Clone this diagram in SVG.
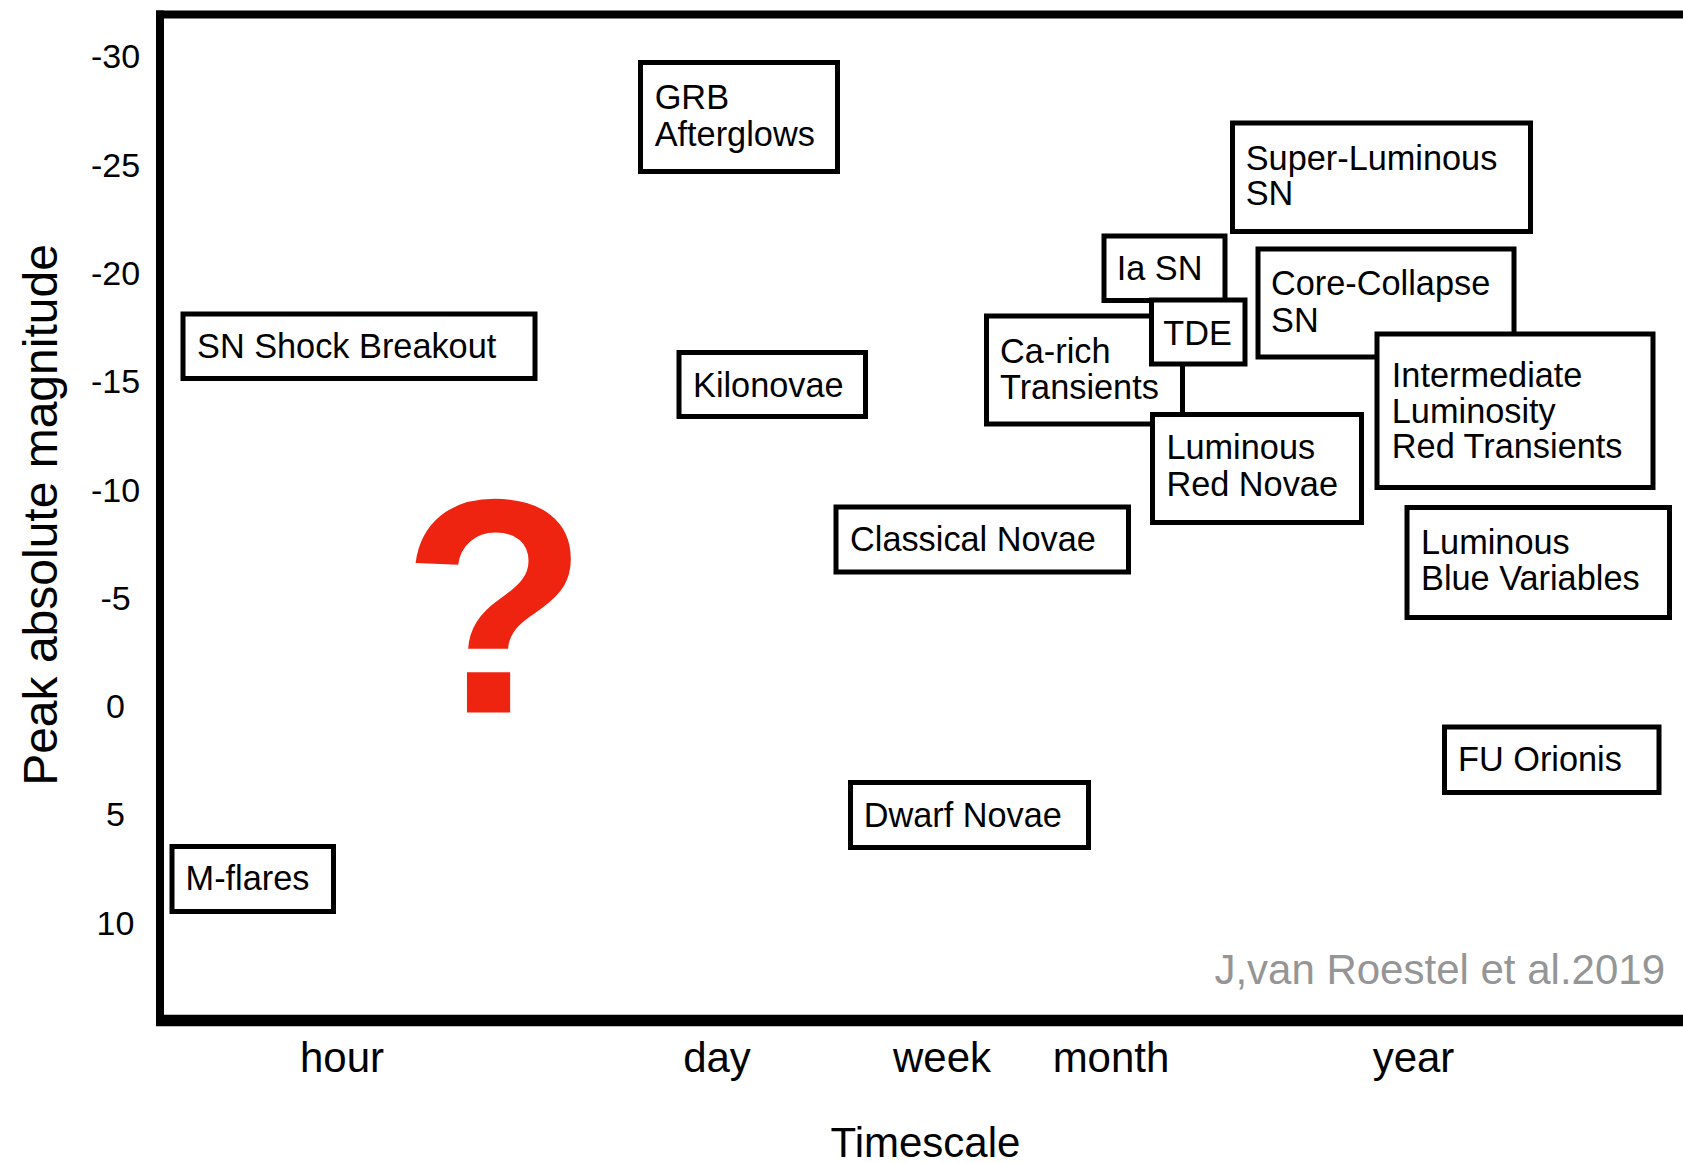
<svg xmlns="http://www.w3.org/2000/svg" width="1683" height="1163" viewBox="0 0 1683 1163">
<style>
text{font-family:"Liberation Sans",Arial,Helvetica,sans-serif;fill:#000}
.box rect{fill:#fff;stroke:#000;stroke-width:5}
.box text{font-size:34.3px}
.tick{font-size:34px;text-anchor:middle}
.xl{font-size:42px;text-anchor:middle}
</style>
<rect x="0" y="0" width="1683" height="1163" fill="#fff"/>
<g id="frame" stroke="#000" fill="none">
<line x1="160" y1="10.5" x2="160" y2="1026" stroke-width="8"/>
<line x1="156" y1="14.5" x2="1683" y2="14.5" stroke-width="8"/>
<line x1="156" y1="1020.5" x2="1683" y2="1020.5" stroke-width="11.5"/>
</g>
<g id="yticks">
<text class="tick" x="115.5" y="68.3">-30</text>
<text class="tick" x="115.5" y="176.6">-25</text>
<text class="tick" x="115.5" y="284.9">-20</text>
<text class="tick" x="115.5" y="393.2">-15</text>
<text class="tick" x="115.5" y="501.5">-10</text>
<text class="tick" x="115.5" y="609.8">-5</text>
<text class="tick" x="115.5" y="718.1">0</text>
<text class="tick" x="115.5" y="826.4">5</text>
<text class="tick" x="115.5" y="934.7">10</text>
</g>
<text id="ylabel" transform="translate(57,515) rotate(-90)" text-anchor="middle" font-size="48">Peak absolute magnitude</text>
<g id="xticks">
<text class="xl" x="342" y="1072">hour</text>
<text class="xl" x="717" y="1072">day</text>
<text class="xl" x="942" y="1072">week</text>
<text class="xl" x="1111" y="1072">month</text>
<text class="xl" x="1413.5" y="1072">year</text>
</g>
<text id="xlabel" x="925.5" y="1157" text-anchor="middle" font-size="42">Timescale</text>
<text id="credit" x="1665" y="984" text-anchor="end" font-size="42" style="fill:#959595">J,van Roestel et al.2019</text>
<text id="question" x="495" y="712.5" text-anchor="middle" font-size="306" font-weight="bold" style="fill:#EE2310">?</text>
<g id="connectors"/>
<g id="grb" class="box"><rect x="640.5" y="62.5" width="197" height="109"/><text x="654.7" y="109.3">GRB</text><text x="654.7" y="145.7">Afterglows</text></g>
<g id="sn-shock-breakout" class="box"><rect x="183" y="314" width="352" height="64.5"/><text x="197" y="358.3">SN Shock Breakout</text></g>
<g id="kilonovae" class="box"><rect x="679" y="352.5" width="186.5" height="64"/><text x="693" y="396.7">Kilonovae</text></g>
<g id="super-luminous-sn" class="box"><rect x="1232.5" y="123" width="298" height="108.5"/><text x="1245.7" y="170">Super-Luminous</text><text x="1245.7" y="205">SN</text></g>
<g id="ia-sn" class="box"><rect x="1104" y="236" width="121" height="64.5"/><text x="1116.7" y="280">Ia SN</text></g>
<g id="ca-rich" class="box"><rect x="986.5" y="316" width="196" height="108"/><text x="1000" y="362.7">Ca-rich</text><text x="1000" y="399">Transients</text></g>
<g id="tde" class="box"><rect x="1151.5" y="300" width="93.5" height="64"/><text x="1163.2" y="345">TDE</text></g>
<g id="luminous-red-novae" class="box"><rect x="1152.5" y="414.5" width="209" height="108"/><text x="1166.4" y="459.3">Luminous</text><text x="1166.4" y="496">Red Novae</text></g>
<g id="core-collapse-sn" class="box"><rect x="1258" y="249" width="256" height="108"/><text x="1271" y="295">Core-Collapse</text><text x="1271" y="332.3">SN</text></g>
<g id="ilrt" class="box"><rect x="1377" y="334" width="276" height="153.5"/><text x="1391.8" y="387.3">Intermediate</text><text x="1391.8" y="423.3">Luminosity</text><text x="1391.8" y="458.3">Red Transients</text></g>
<g id="lbv" class="box"><rect x="1407" y="507.5" width="262.5" height="110"/><text x="1421" y="554.3">Luminous</text><text x="1421" y="590">Blue Variables</text></g>
<g id="classical-novae" class="box"><rect x="836" y="507" width="292.5" height="65"/><text x="850" y="551">Classical Novae</text></g>
<g id="fu-orionis" class="box"><rect x="1444.5" y="727" width="214.5" height="65.5"/><text x="1458" y="771">FU Orionis</text></g>
<g id="dwarf-novae" class="box"><rect x="850.5" y="782.5" width="238" height="65"/><text x="863.7" y="826.7">Dwarf Novae</text></g>
<g id="m-flares" class="box"><rect x="172" y="846.5" width="161.5" height="65"/><text x="185.6" y="890">M-flares</text></g>
</svg>
